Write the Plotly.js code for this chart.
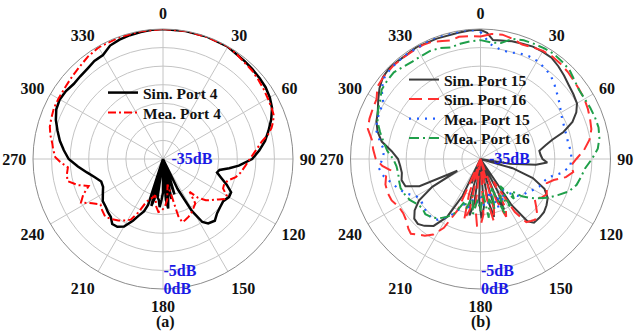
<!DOCTYPE html>
<html>
<head>
<meta charset="utf-8">
<script src="https://cdn.plot.ly/plotly-3.0.1.min.js"></script>
<style>html,body{margin:0;padding:0;background:#fff}#chart{width:634px;height:331px}</style>
</head>
<body>
<div id="chart"></div>
<script>
// ---------- Data (a) ----------
const simPort4Theta = [0,10,20,30,40,45,50,55,60,65,70,75,80,85,90,95,98,101,104,108,112,116,120,125,130,135,140,145,148,151,154,157,160,162,164,166,168,170,172,174,176,178,180,182,184,186,188,190,192,194,196,198,200,203,206,210,214,218,222,226,230,235,240,245,250,255,260,265,270,275,280,285,290,295,300,305,310,315,320,325,330,335,340,345,350,355,360];
const simPort4 = [0,0,0,-0.1,-0.7,-0.9,-1.1,-1.3,-1.8,-2.6,-4.0,-5.6,-7.1,-9.0,-11.0,-14.5,-17,-19.5,-20,-18.5,-16.5,-14.6,-14.5,-15.2,-14.9,-14.4,-13.3,-13.8,-15,-19,-26,-35,-30,-25,-30,-35,-24,-35,-25,-21.6,-24,-35,-26,-24,-22,-24,-24.5,-35,-24,-22,-35,-22,-20,-18.5,-16.5,-14,-13,-12.8,-14,-14.4,-14.9,-15.2,-16.3,-17.2,-17.3,-16,-14.2,-12,-9.6,-8.2,-6.8,-5.6,-4.3,-3.3,-2.9,-3.1,-3.6,-3.5,-3.3,-2.8,-2.7,-1.3,-0.8,-0.5,-0.3,-0.1,0];

const meaPort4Theta = [0,10,20,30,35,40,45,50,55,60,65,68,71,74,77,80,85,90,95,100,104,108,112,116,120,123,126,130,134,138,141,144,148,152,156,160,163,165,167,170,174,178,182,185,188,192,196,199,202,205,208,212,216,220,225,230,234,238,242,246,250,253,257,261,265,268,271,275,278,282,286,290,295,300,307,313,318,324,330,340,350,360];
const meaPort4 = [0,0,-0.1,0,-0.5,-1.0,-1.2,-1.6,-2.0,-2.4,-2.7,-2.9,-3.6,-4.6,-6,-8,-10,-11.6,-12.8,-13.8,-14.8,-16.5,-17.2,-17,-15.2,-15.2,-16.5,-17.8,-19,-21,-23.6,-20.2,-19.5,-18.7,-18,-17.5,-17.2,-19,-25,-28,-24,-22,-21,-20.7,-22,-25,-24,-23.5,-22,-19,-16.5,-15.5,-14.5,-13.8,-13,-13.6,-14.2,-12.5,-10,-11.5,-13.7,-11,-8.6,-8.8,-9.3,-7.5,-6,-5.3,-4.9,-4.0,-3.3,-3.0,-2.6,-2.5,-2.3,-1.9,-1.5,-0.8,-0.3,-0.2,-0.1,0];

// ---------- Data (b) ----------
const simPort15Theta = [0,3,6,10,15,20,25,30,35,40,45,50,55,60,64,68,72,75,78,82,86,90,93,96,99,102,106,110,115,120,125,130,135,140,143,146,149,152,155,158,161,164,167,170,173,176,179,182,185,188,191,194,197,200,203,206,210,215,220,224,228,232,236,240,243,246,250,255,260,265,270,275,280,285,290,295,300,305,310,315,320,325,330,340,350,355,360];
const simPort15 = [-0.2,-1.0,-2.8,-2.6,-2.2,-2.0,-1.6,-1.6,-1.7,-2.4,-3.2,-4.0,-4.5,-5.0,-6.3,-8.3,-11.5,-15,-17,-19,-18.8,-18.3,-17,-20,-27,-35,-26,-20,-16,-14.1,-13.3,-12.7,-12.6,-12.6,-14,-20,-35,-25,-20,-24,-35,-22,-19,-24,-35,-22,-19,-24,-35,-23,-19.5,-24,-35,-28,-35,-24,-17,-13,-11.5,-10.7,-11,-12.5,-15,-20,-28,-17,-13.5,-13,-13.5,-13.3,-12.8,-11,-8,-6.3,-5.2,-4.5,-3.2,-1.8,-0.7,-0.3,-0.5,-0.6,-0.3,-0.5,-0.5,-0.3,-0.2];

const simPort16Theta = [0,5,10,15,20,25,30,35,40,45,50,55,60,65,70,75,80,85,90,94,98,102,106,110,114,118,122,126,130,134,138,141,144,147,150,153,156,159,162,165,168,171,174,177,180,183,186,189,192,195,198,201,204,208,212,216,220,223,226,230,235,240,245,250,255,260,263,266,270,275,280,285,290,295,300,305,310,317,323,328,333,337,342,346,350,355,360];
const simPort16 = [-2,-1.2,-1.0,-1.5,-2.2,-1.8,-1.4,-1.3,-1.5,-1.8,-2.2,-2.5,-2.7,-3.1,-3.6,-4.1,-5.2,-7,-9.2,-10.5,-9.8,-11.5,-14.5,-16,-15.5,-14.8,-15.5,-17,-15.5,-13.8,-13,-13.5,-14,-18,-28,-20,-18,-23,-35,-21,-18,-24,-35,-20,-17,-17,-22,-35,-21,-18,-25,-35,-20,-14,-11,-9.5,-8.5,-7.5,-8,-9,-9.6,-9.5,-8.6,-8.4,-8.5,-9.2,-10.5,-8.5,-6.8,-6,-5.3,-3.6,-3.2,-3.0,-2.7,-1.1,-0.8,-0.6,-0.7,-0.7,-0.6,-0.8,-1.6,-2.1,-1.6,-1.8,-2];

const meaPort15Theta = [0,5,10,15,20,25,30,35,40,45,50,55,60,65,70,75,80,85,90,95,100,105,110,115,120,125,130,135,140,145,150,155,160,165,170,175,180,185,190,195,200,205,210,215,220,225,230,235,240,245,250,255,260,265,270,275,280,285,290,295,300,305,310,315,320,325,330,335,340,345,350,355,360];
const meaPort15 = [-0.8,-4,-5,-5.3,-4.7,-4.4,-4.5,-5,-5.6,-6.8,-8,-9,-10,-10.6,-10.9,-11,-11,-10.6,-10.5,-10.8,-13,-16,-17,-17.5,-18.5,-19.5,-20,-21,-23,-25,-22,-24,-21,-26,-23,-22,-25,-23,-24,-21,-22,-19,-17,-15,-14.4,-14.6,-15,-15.5,-15,-13,-11.5,-10.2,-8.5,-7.5,-8.6,-9,-7.5,-6,-5.3,-5,-4.8,-2.5,-1.1,-0.7,-0.6,-0.5,-0.6,-0.4,-0.1,-0.2,-0.3,0,-0.8];

const meaPort16Theta = [0,5,10,15,20,25,30,35,40,45,50,55,60,65,70,75,80,85,90,95,100,105,110,115,120,125,128,132,136,140,144,148,152,156,160,164,168,172,176,180,184,188,192,196,200,205,210,215,220,225,230,235,240,245,250,255,260,265,270,275,280,285,290,295,300,305,310,315,320,325,330,335,340,345,350,355,360];
const meaPort16 = [-3.0,-3.5,-3.3,-1.5,-1.0,-0.8,-0.6,-0.5,-0.8,-1.1,-2.0,-2.6,-2.6,-2.4,-2.2,-2.1,-2.5,-3.3,-5,-6.7,-7.5,-8.2,-9.6,-12,-14.1,-16.5,-18,-20,-23,-21,-26,-20,-24,-19,-27,-21,-24,-19,-26,-21,-24,-20,-25,-21,-23,-19,-17,-15.5,-14.5,-14,-14.5,-14,-13,-12.5,-12.1,-12.3,-12.5,-12.3,-11.5,-9.8,-8.5,-7,-5.5,-4.5,-3.8,-2.5,-2.2,-2.0,-2.6,-3.0,-3.0,-2.9,-3.2,-3.9,-3.5,-3.2,-3.0];

const angleTicks = [0,30,60,90,120,150,180,210,240,270,300,330];
const ringTicks = [-35,-30,-25,-20,-15,-10,-5,0];
const ringLabels = ['\u00a0\u00a0-35dB','','','','','','-5dB','0dB'];

// ---------- Layout helpers ----------
const serif = 'Liberation Serif, Times New Roman, serif';
function minorPolar(domX){
  return {
    domain:{x:domX,y:[0,1]}, bgcolor:'#fff',
    radialaxis:{range:[-35,0], dtick:2.5, tick0:0, showticklabels:false, ticks:'', showline:false,
      gridcolor:'#d6d6d6', griddash:'dot', gridwidth:1},
    angularaxis:{direction:'clockwise', rotation:90, dtick:10, showticklabels:false, ticks:'',
      showline:false, gridcolor:'#d6d6d6', griddash:'dot', gridwidth:1}
  };
}
function majorPolar(domX){
  return {
    domain:{x:domX,y:[0,1]}, bgcolor:'rgba(0,0,0,0)',
    radialaxis:{range:[-35,0], tickmode:'array', tickvals:ringTicks, ticktext:ringLabels, angle:-90,
      side:'counterclockwise', tickangle:-90, showline:false, ticks:'', gridcolor:'#c4c4c4', gridwidth:1,
      tickfont:{family:serif, size:16, color:'#1a1ae6', weight:'bold'}},
    angularaxis:{direction:'clockwise', rotation:90, tickmode:'array', tickvals:angleTicks,
      ticktext:angleTicks.map(String), ticks:'outside', ticklen:3, tickcolor:'rgba(0,0,0,0)',
      showline:true, linecolor:'#8c8c8c', linewidth:1,
      gridcolor:'#c4c4c4', gridwidth:1,
      tickfont:{family:serif, size:16, color:'#111', weight:'bold'}}
  };
}
const domA = [33/634, 293/634];
const domB = [350/634, 611/634];

const traces = [
  {type:'scatterpolar', mode:'lines', subplot:'polar2', name:'Sim. Port 4', theta:simPort4Theta, r:simPort4,
    line:{color:'#000', width:2.5}, legend:'legend'},
  {type:'scatterpolar', mode:'lines', subplot:'polar2', name:'Mea. Port 4', theta:meaPort4Theta, r:meaPort4,
    line:{color:'#ff0000', width:2, dash:'8px,3px,2px,3px'}, legend:'legend2'},
  {type:'scatterpolar', mode:'lines', subplot:'polar4', name:'Sim. Port 15', theta:simPort15Theta, r:simPort15,
    line:{color:'#3c3c3c', width:2}, legend:'legend3'},
  {type:'scatterpolar', mode:'lines', subplot:'polar4', name:'Sim. Port 16', theta:simPort16Theta, r:simPort16,
    line:{color:'#ff3030', width:2, dash:'13px,6px'}, legend:'legend4'},
  {type:'scatterpolar', mode:'lines', subplot:'polar4', name:'Mea. Port 15', theta:meaPort15Theta, r:meaPort15,
    line:{color:'#1f5cff', width:2.2, dash:'2px,6px'}, legend:'legend5'},
  {type:'scatterpolar', mode:'lines', subplot:'polar4', name:'Mea. Port 16', theta:meaPort16Theta, r:meaPort16,
    line:{color:'#1f9f4a', width:2, dash:'10px,4px,2px,4px'}, legend:'legend6'}
];

const legendFont = {family:serif, size:15.5, color:'#111', weight:'bold'};
function leg(xpx, ypx){
  return {x:xpx/634, y:1-(ypx-29)/260, xanchor:'left', yanchor:'middle', bgcolor:'rgba(0,0,0,0)', font:legendFont};
}
const layout = {
  width:634, height:331, margin:{l:0,r:0,t:29,b:42}, paper_bgcolor:'#fff',
  showlegend:true,
  polar:minorPolar(domA), polar2:majorPolar(domA),
  polar3:minorPolar(domB), polar4:majorPolar(domB),
  legend:leg(103, 93), legend2:leg(103, 113),
  legend3:leg(404, 80), legend4:leg(404, 99.5), legend5:leg(404, 119), legend6:leg(404, 138.5),
  annotations:[
    {xref:'paper', yref:'paper', x:165/634, y:-(322-289)/260, text:'(a)', showarrow:false, xanchor:'center', yanchor:'middle',
      font:{family:serif, size:16, color:'#111', weight:'bold'}},
    {xref:'paper', yref:'paper', x:481/634, y:-(322-289)/260, text:'(b)', showarrow:false, xanchor:'center', yanchor:'middle',
      font:{family:serif, size:16, color:'#111', weight:'bold'}}
  ]
};
Plotly.newPlot('chart', traces, layout, {displayModeBar:false, staticPlot:true});
</script>
</body>
</html>
